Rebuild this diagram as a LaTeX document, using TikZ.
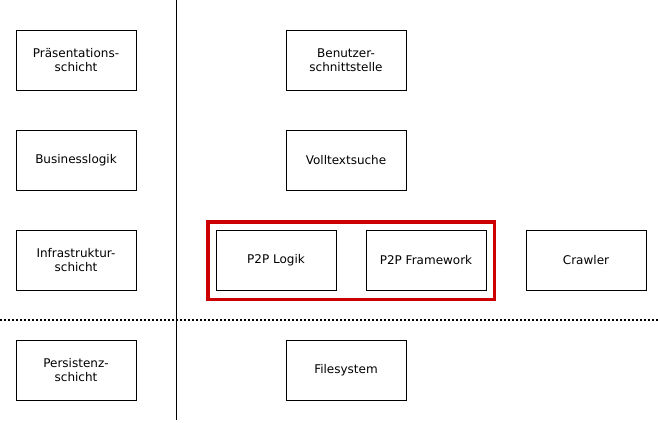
\documentclass[tikz,border=0pt]{standalone}
\usepackage{fontspec}
\setmainfont{DejaVu Sans}
\definecolor{boxred}{HTML}{CC0000}
\begin{document}
\begin{tikzpicture}[x=0.75pt,y=-0.75pt,
  layerbox/.style={draw=black,line width=0.75pt,minimum width=90pt,minimum height=45pt,inner sep=0pt,align=center,font=\fontsize{9}{10.2}\selectfont},
  sepline/.style={line width=0.75pt},
  dotline/.style={line width=1.5pt,dash pattern=on 1.5pt off 1.5pt}]
\useasboundingbox (0,0) rectangle (658,422);
\node[layerbox] (praes) at (76,60) {Präsentations-\\schicht};
\node[layerbox] (bus) at (76,160) {Businesslogik};
\node[layerbox] (infra) at (76,260) {Infrastruktur-\\schicht};
\node[layerbox] (pers) at (76,370) {Persistenz-\\schicht};
\node[layerbox] (ui) at (346,60) {Benutzer-\\schnittstelle};
\node[layerbox] (vt) at (346,160) {Volltextsuche};
\node[layerbox] (p2pl) at (276,260) {P2P Logik};
\node[layerbox] (p2pf) at (426,260) {P2P Framework};
\node[layerbox] (crawl) at (586,260) {Crawler};
\node[layerbox] (fs) at (346,370) {Filesystem};
\draw[boxred,line width=2.6pt] (208,222) rectangle (494.5,299.5);
\coordinate (vtop) at (176.5,0);
\coordinate (vbot) at (176.5,420);
\draw[sepline] (vtop) -- (vbot);
\coordinate (hl) at (0,320);
\coordinate (hr) at (658,320);
\draw[dotline] (hl) -- (hr);
\end{tikzpicture}
\end{document}
